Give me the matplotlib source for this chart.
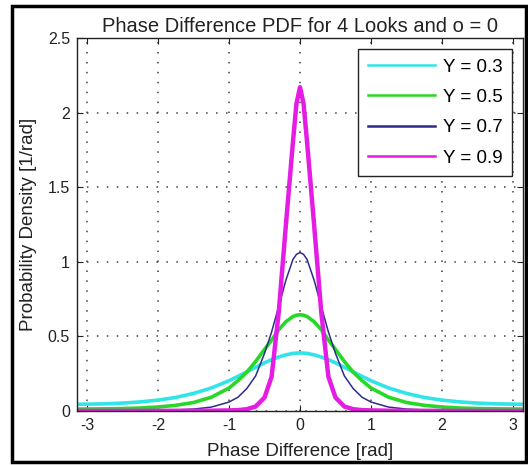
import matplotlib
matplotlib.use("Agg")
import matplotlib.pyplot as plt
from matplotlib.patches import Rectangle

plt.rcParams['font.family'] = ['Liberation Sans', 'DejaVu Sans']

# ---- data ----
phase = [-3.1416, -2.75, -2.5, -2.25, -2.0, -1.75, -1.5, -1.25, -1.0, -0.875, -0.75,
         -0.625, -0.5, -0.4, -0.3, -0.2, -0.1, -0.05, 0.0, 0.05, 0.1, 0.2, 0.3, 0.4,
         0.5, 0.625, 0.75, 0.875, 1.0, 1.25, 1.5, 1.75, 2.0, 2.25, 2.5, 2.75, 3.1416]

pdf_g03 = [0.045, 0.048, 0.053, 0.061, 0.073, 0.091, 0.118, 0.154, 0.203, 0.232, 0.262,
           0.293, 0.323, 0.344, 0.362, 0.376, 0.386, 0.388, 0.389, 0.388, 0.386, 0.376,
           0.362, 0.344, 0.323, 0.293, 0.262, 0.232, 0.203, 0.154, 0.118, 0.091, 0.073,
           0.061, 0.053, 0.048, 0.045]

pdf_g05 = [0.013, 0.0145, 0.0166, 0.020, 0.027, 0.038, 0.057, 0.092, 0.154, 0.203, 0.260,
           0.332, 0.413, 0.475, 0.545, 0.598, 0.633, 0.642, 0.645, 0.642, 0.633, 0.598,
           0.545, 0.475, 0.413, 0.332, 0.260, 0.203, 0.154, 0.092, 0.057, 0.038, 0.027,
           0.020, 0.0166, 0.0145, 0.013]

pdf_g07 = [0.002, 0.002, 0.003, 0.004, 0.005, 0.007, 0.013, 0.026, 0.060, 0.092, 0.150,
           0.235, 0.386, 0.530, 0.700, 0.875, 1.015, 1.050, 1.062, 1.050, 1.015, 0.875,
           0.700, 0.530, 0.386, 0.235, 0.150, 0.092, 0.060, 0.026, 0.013, 0.007, 0.005,
           0.004, 0.003, 0.002, 0.002]

pdf_g09 = [0.0005, 0.0005, 0.0006, 0.0008, 0.001, 0.0012, 0.0015, 0.002, 0.004, 0.006, 0.012,
           0.030, 0.090, 0.230, 0.660, 1.240, 1.800, 2.060, 2.170, 2.060, 1.800, 1.240,
           0.660, 0.230, 0.090, 0.030, 0.012, 0.006, 0.004, 0.002, 0.0015, 0.0012, 0.001,
           0.0008, 0.0006, 0.0005, 0.0005]

labels = ['Y = 0.3', 'Y = 0.5', 'Y = 0.7', 'Y = 0.9']
xticks = [-3, -2, -1, 0, 1, 2, 3]
yticks = [0, 0.5, 1, 1.5, 2, 2.5]
ytick_labels = ['0', '0.5', '1', '1.5', '2', '2.5']

# ---- figure ----
W, H = 528, 465
fig = plt.figure(figsize=(W / 100, H / 100), dpi=100)
ax = fig.add_axes([77 / W, (H - 411) / H, (523 - 77) / W, (411 - 38) / H])

series = [pdf_g03, pdf_g05, pdf_g07, pdf_g09]
colors = ['#30e4e8', '#28d828', '#2c2c8c', '#e41ce4']
widths = [2.6, 2.6, 1.1, 3.2]
for vals, c, lw, lab in zip(series, colors, widths, labels):
    ax.plot(phase, vals, color=c, lw=lw, label=lab, solid_joinstyle='round')

ax.set_xlim(-3.1416, 3.1416)
ax.set_ylim(0, 2.5)
ax.set_xticks(xticks)
ax.set_xticklabels([str(t) for t in xticks])
ax.set_yticks(yticks)
ax.set_yticklabels(ytick_labels)
ax.grid(True, color='#404040', linestyle=(0, (1, 5.5)), linewidth=1.1)
ax.tick_params(direction='in', top=True, right=True, length=4, width=0.8,
               labelsize=11.5, colors='#222222', pad=5)
for s in ax.spines.values():
    s.set_linewidth(1.0)
    s.set_color('#222222')

ax.set_title('Phase Difference PDF for 4 Looks and o = 0', fontsize=14.5, pad=4,
             color='#222222')
ax.set_xlabel('Phase Difference [rad]', fontsize=13.5, labelpad=7, color='#222222')
ax.set_ylabel('Probability Density [1/rad]', fontsize=13.5, labelpad=8, color='#222222')

leg = ax.legend(loc='upper right', fontsize=13.5, frameon=True, fancybox=False,
                edgecolor='#222222', framealpha=1.0, handlelength=3.6,
                borderaxespad=0.6, labelspacing=0.7, handletextpad=0.4,
                borderpad=0.5)
leg.get_frame().set_linewidth(1.0)
for ln in leg.get_lines():
    ln.set_linewidth(1.8)

# outer black frame
fig.patches.append(Rectangle((12 / W, 3 / H), (526 - 12) / W, (459 - 3) / H,
                             transform=fig.transFigure, fill=False,
                             edgecolor='black', linewidth=2.5))

fig.savefig('out.png', dpi=100)
